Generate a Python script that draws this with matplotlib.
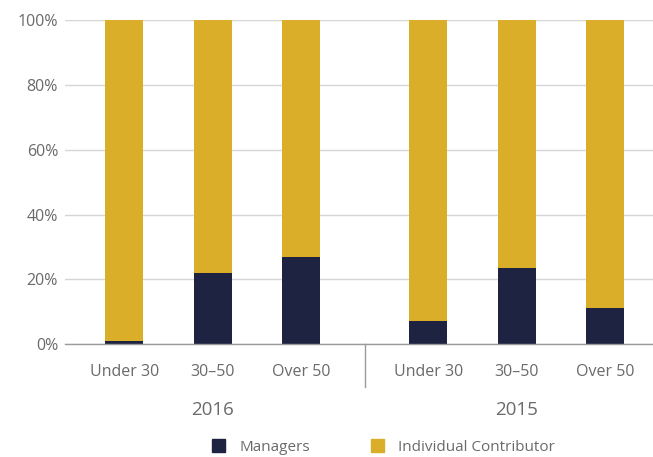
import matplotlib.pyplot as plt
from matplotlib.patches import Patch

# Share of managers vs individual contributors by age band
years = ['2016', '2015']
age_groups = ['Under 30', '30–50', 'Over 50']
managers_2016 = [1, 22, 27]
managers_2015 = [7, 23.5, 11]

navy = '#1d2340'
gold = '#dbae29'
grid_col = '#d6d6d6'
text_col = '#6a6a6a'

plt.rcParams['font.family'] = ['Open Sans', 'DejaVu Sans']

fig = plt.figure(figsize=(6.53, 4.57), dpi=100)
ax = fig.add_axes([0.0995, 0.247, 0.9005, 0.709])

# position of each group's first bar, bars inside a group are 1 unit apart
group_start = [0, 3.44]
width = 0.43

xs, labels = [], []
for start, mgr in zip(group_start, [managers_2016, managers_2015]):
    pos = [start + i for i in range(len(age_groups))]
    ic = [100 - m for m in mgr]
    ax.bar(pos, mgr, width=width, color=navy, zorder=3)
    ax.bar(pos, ic, bottom=mgr, width=width, color=gold, zorder=3)
    xs += pos
    labels += age_groups

ax.set_ylim(0, 100)
ax.set_xlim(-0.67, 5.98)
ax.set_yticks(range(0, 101, 20))
ax.set_yticklabels([f'{v}%' for v in range(0, 101, 20)])
ax.set_xticks(xs)
ax.set_xticklabels(labels)
ax.tick_params(axis='both', length=0, labelsize=11.5, colors=text_col)
ax.tick_params(axis='x', pad=14)
ax.tick_params(axis='y', pad=5)

ax.yaxis.grid(True, color=grid_col, linewidth=1, zorder=0)
for s in ['top', 'right', 'left']:
    ax.spines[s].set_visible(False)
ax.spines['bottom'].set_color('#9a9a9a')
ax.spines['bottom'].set_linewidth(1)
ax.spines['bottom'].set_zorder(4)

# divider between the two years
sep_x = (group_start[0] + 2 + group_start[1]) / 2
ax.plot([sep_x, sep_x], [0, -0.133], transform=ax.get_xaxis_transform(),
        color='#9a9a9a', linewidth=1, clip_on=False)

for start, yr in zip(group_start, years):
    ax.text(start + 1, -0.204, yr, transform=ax.get_xaxis_transform(),
            ha='center', va='center', fontsize=13.5, color=text_col)

handles = [Patch(color=navy, label='Managers'),
           Patch(color=gold, label='Individual Contributor')]
fig.legend(handles=handles, loc='center', bbox_to_anchor=(0.587, 0.022),
           ncol=2, frameon=False, fontsize=11, labelcolor=text_col,
           handlelength=0.9, handleheight=0.9, columnspacing=4.0, handletextpad=0.9)

fig.savefig('out.png', dpi=100)
